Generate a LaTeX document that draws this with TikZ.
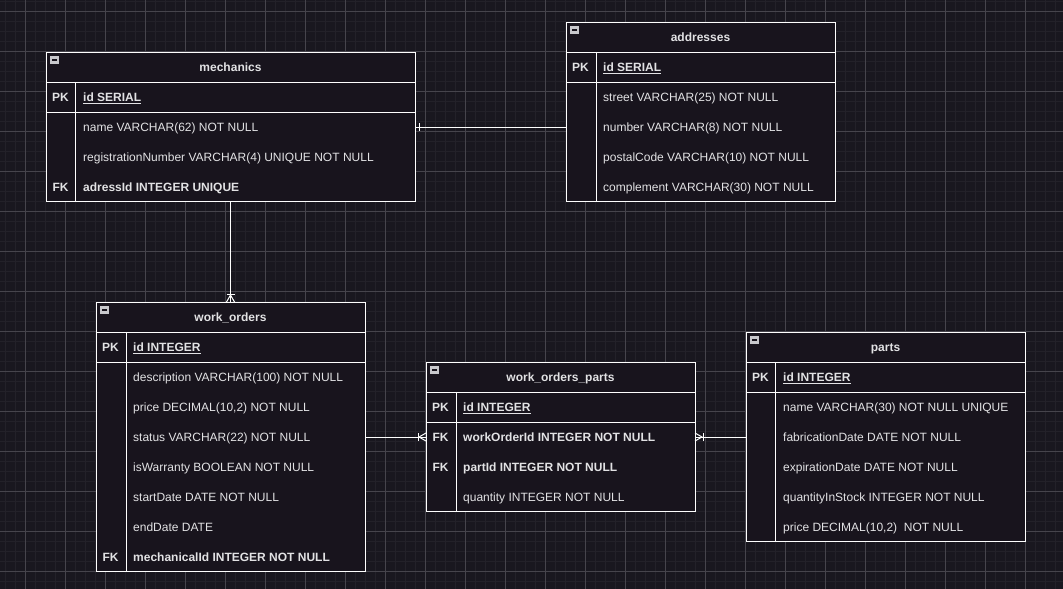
\documentclass[tikz,border=0pt]{standalone}
\usepackage{fontspec}
\setmainfont{Liberation Sans}
\usepackage{tikz}
\usetikzlibrary{positioning}
\definecolor{canvasbg}{RGB}{25,23,31}
\definecolor{tablefill}{RGB}{24,20,29}
\definecolor{minorline}{RGB}{35,33,41}
\definecolor{majorline}{RGB}{70,68,76}
\definecolor{labeltext}{RGB}{226,226,228}
\definecolor{iconfill}{RGB}{200,200,204}

\tikzset{
    tablebox/.style={draw=white, line width=1pt, fill=tablefill, anchor=north west, inner sep=0pt, outer sep=0pt},
    border/.style={white, line width=1pt},
    rel/.style={white, line width=1pt},
    title/.style={font=\fontsize{12}{14}\selectfont\bfseries, text=labeltext, inner sep=0pt, text height=10pt, text depth=1.5pt},
    keycol/.style={font=\fontsize{12}{14}\selectfont\bfseries, text=labeltext, inner sep=0pt, text height=10pt, text depth=1.5pt},
    field/.style={font=\fontsize{12}{14}\selectfont, text=labeltext, anchor=west, inner sep=0pt, text height=10pt, text depth=1.5pt},
    keyfield/.style={field, font=\fontsize{12}{14}\selectfont\bfseries},
}

\begin{document}
\begin{tikzpicture}[x=1pt, y=-1pt]
    % Canvas with grid
    \useasboundingbox (0,0) rectangle (1063,589);
    \fill[canvasbg] (0,0) rectangle (1063,589);
    \foreach \x in {5,15,...,1055} {
        \draw[minorline, line width=1pt] (\x,0) -- (\x,589);
    }
    \foreach \y in {1,11,...,581} {
        \draw[minorline, line width=1pt] (0,\y) -- (1063,\y);
    }
    \foreach \x in {25,65,...,1045} {
        \draw[majorline, line width=1pt] (\x,0) -- (\x,589);
    }
    \foreach \y in {11,51,...,571} {
        \draw[majorline, line width=1pt] (0,\y) -- (1063,\y);
    }

    % Mechanics table
    \node[tablebox, minimum width=369pt, minimum height=149pt] (mechanics) at (46,52) {};
    \draw[border] (46,82) -- (415,82);
    \draw[border] (46,112) -- (415,112);
    \draw[border] (75.5,82) -- (75.5,201);
    \fill[iconfill] (50,56) rectangle (59,64);
    \draw[tablefill, line width=1.2pt] (52,60) -- (57,60);
    \node[title] (mech-title) at (230.5,67) {mechanics};
    \node[keycol] at (60.5,97) {PK};
    \node[keyfield] (mech-id) at (83,97) {\underline{id SERIAL}};
    \node[field] (mech-name) at (83,127) {name VARCHAR(62) NOT NULL};
    \node[field] (mech-reg) at (83,157) {registrationNumber VARCHAR(4) UNIQUE NOT NULL};
    \node[keycol] at (60.5,187) {FK};
    \node[keyfield] (mech-addr) at (83,187) {adressId INTEGER UNIQUE};

    % Addresses table
    \node[tablebox, minimum width=269pt, minimum height=179pt] (addresses) at (566,22) {};
    \draw[border] (566,52) -- (835,52);
    \draw[border] (566,82) -- (835,82);
    \draw[border] (596,52) -- (596,201);
    \fill[iconfill] (570,26) rectangle (579,34);
    \draw[tablefill, line width=1.2pt] (572,30) -- (577,30);
    \node[title] (addr-title) at (700.5,37) {addresses};
    \node[keycol] at (580.5,67) {PK};
    \node[keyfield] (addr-id) at (603,67) {\underline{id SERIAL}};
    \node[field] (addr-street) at (603,97) {street VARCHAR(25) NOT NULL};
    \node[field] (addr-number) at (603,127) {number VARCHAR(8) NOT NULL};
    \node[field] (addr-postal) at (603,157) {postalCode VARCHAR(10) NOT NULL};
    \node[field] (addr-comp) at (603,187) {complement VARCHAR(30) NOT NULL};

    % Work orders table
    \node[tablebox, minimum width=269pt, minimum height=269pt] (work_orders) at (96,302) {};
    \draw[border] (96,332) -- (365,332);
    \draw[border] (96,362) -- (365,362);
    \draw[border] (126,332) -- (126,571);
    \fill[iconfill] (100,306) rectangle (109,314);
    \draw[tablefill, line width=1.2pt] (102,310) -- (107,310);
    \node[title] (wo-title) at (230.5,317) {work\_orders};
    \node[keycol] at (110.5,347) {PK};
    \node[keyfield] (wo-id) at (133,347) {\underline{id INTEGER}};
    \node[field] (wo-desc) at (133,377) {description VARCHAR(100) NOT NULL};
    \node[field] (wo-price) at (133,407) {price DECIMAL(10,2) NOT NULL};
    \node[field] (wo-status) at (133,437) {status VARCHAR(22) NOT NULL};
    \node[field] (wo-warranty) at (133,467) {isWarranty BOOLEAN NOT NULL};
    \node[field] (wo-start) at (133,497) {startDate DATE NOT NULL};
    \node[field] (wo-end) at (133,527) {endDate DATE};
    \node[keycol] at (110.5,557) {FK};
    \node[keyfield] (wo-mech) at (133,557) {mechanicalId INTEGER NOT NULL};

    % Work orders parts table
    \node[tablebox, minimum width=269pt, minimum height=149pt] (work_orders_parts) at (426,362) {};
    \draw[border] (426,392) -- (695,392);
    \draw[border] (426,422) -- (695,422);
    \draw[border] (456,392) -- (456,511);
    \fill[iconfill] (430,366) rectangle (439,374);
    \draw[tablefill, line width=1.2pt] (432,370) -- (437,370);
    \node[title] (wop-title) at (560.5,377) {work\_orders\_parts};
    \node[keycol] at (440.5,407) {PK};
    \node[keyfield] (wop-id) at (463,407) {\underline{id INTEGER}};
    \node[keycol] at (440.5,437) {FK};
    \node[keyfield] (wop-order) at (463,437) {workOrderId INTEGER NOT NULL};
    \node[keycol] at (440.5,467) {FK};
    \node[keyfield] (wop-part) at (463,467) {partId INTEGER NOT NULL};
    \node[field] (wop-qty) at (463,497) {quantity INTEGER NOT NULL};

    % Parts table
    \node[tablebox, minimum width=279pt, minimum height=209pt] (parts) at (746,332) {};
    \draw[border] (746,362) -- (1025,362);
    \draw[border] (746,392) -- (1025,392);
    \draw[border] (775.5,362) -- (775.5,541);
    \fill[iconfill] (750,336) rectangle (759,344);
    \draw[tablefill, line width=1.2pt] (752,340) -- (757,340);
    \node[title] (part-title) at (885.5,347) {parts};
    \node[keycol] at (760.5,377) {PK};
    \node[keyfield] (part-id) at (783,377) {\underline{id INTEGER}};
    \node[field] (part-name) at (783,407) {name VARCHAR(30) NOT NULL UNIQUE};
    \node[field] (part-fab) at (783,437) {fabricationDate DATE NOT NULL};
    \node[field] (part-exp) at (783,467) {expirationDate DATE NOT NULL};
    \node[field] (part-stock) at (783,497) {quantityInStock INTEGER NOT NULL};
    \node[field] (part-price) at (783,527) {price DECIMAL(10,2)\ \ NOT NULL};

    % Relations
    \coordinate (mech-out) at (mech-name -| mechanics.east);
    \coordinate (addr-in) at (addr-number -| addresses.west);
    \draw[rel] (mech-out) -- (addr-in);
    \draw[rel] ([xshift=4pt, yshift=4pt]mech-out) -- ([xshift=4pt, yshift=-4pt]mech-out);

    \draw[rel] (mechanics.south) -- (work_orders.north);
    \draw[rel] ([yshift=8pt, xshift=-4pt]work_orders.north) -- ([yshift=8pt, xshift=4pt]work_orders.north);
    \draw[rel] ([xshift=-4pt]work_orders.north) -- ([yshift=7pt]work_orders.north) -- ([xshift=4pt]work_orders.north);

    \coordinate (wo-out) at (wo-status -| work_orders.east);
    \coordinate (wop-in) at (wop-order -| work_orders_parts.west);
    \draw[rel] (wo-out) -- (wop-in);
    \draw[rel] ([xshift=-8pt, yshift=4pt]wop-in) -- ([xshift=-8pt, yshift=-4pt]wop-in);
    \draw[rel] ([yshift=4pt]wop-in) -- ([xshift=-7pt]wop-in) -- ([yshift=-4pt]wop-in);

    \coordinate (wop-out) at (wop-order -| work_orders_parts.east);
    \coordinate (part-in) at (part-fab -| parts.west);
    \draw[rel] (wop-out) -- (part-in);
    \draw[rel] ([xshift=8pt, yshift=4pt]wop-out) -- ([xshift=8pt, yshift=-4pt]wop-out);
    \draw[rel] ([yshift=4pt]wop-out) -- ([xshift=7pt]wop-out) -- ([yshift=-4pt]wop-out);
\end{tikzpicture}
\end{document}
